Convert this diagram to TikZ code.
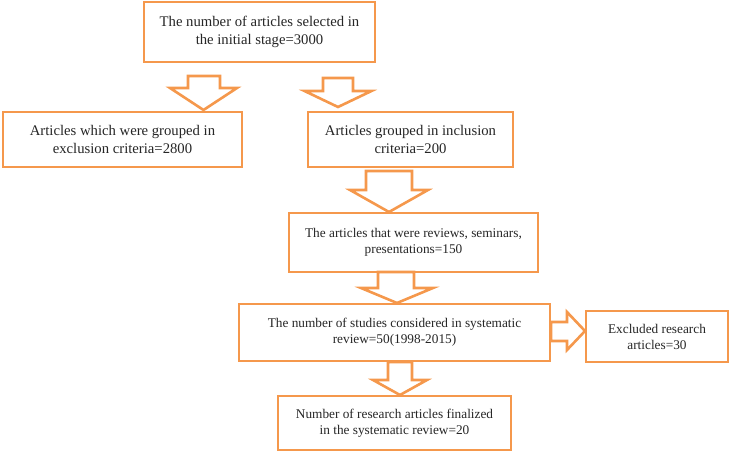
\documentclass[tikz,border=0pt]{standalone}
\usepackage{fontspec}
\setmainfont{Liberation Serif}
\definecolor{boxorange}{RGB}{245,152,76}
\begin{document}
\begin{tikzpicture}[x=1pt,y=-1pt,
  box/.style={draw=boxorange,line width=2.6pt,fill=white,align=center,inner sep=0pt,text=black!85},
  big/.style={font=\fontsize{14.7}{17.5}\selectfont},
  small/.style={font=\fontsize{13.3}{16}\selectfont},
  barrow/.style={draw=boxorange,line width=2.6pt,fill=white,line join=miter}]
\useasboundingbox (0,0) rectangle (730,452);
\node[box,big,minimum width=231pt,minimum height=60pt] (b1) at (259.5,32) {The number of articles selected in\\the initial stage=3000};
\node[box,big,minimum width=239pt,minimum height=55pt] (b2) at (122.5,139.5) {Articles which were grouped in\\exclusion criteria=2800};
\node[box,big,minimum width=205pt,minimum height=55pt] (b3) at (410.5,139.5) {Articles grouped in inclusion\\criteria=200};
\node[box,small,minimum width=249pt,minimum height=59pt] (b4) at (413.5,242.5) {The articles that were reviews, seminars,\\presentations=150};
\node[box,small,minimum width=311pt,minimum height=57pt] (b5) at (394.5,332.5) {The number of studies considered in systematic\\review=50(1998-2015)};
\node[box,small,minimum width=142pt,minimum height=51pt] (b6) at (657,336.5) {Excluded research\\articles=30};
\node[box,small,minimum width=233pt,minimum height=54pt] (b7) at (394.5,423) {Number of research articles finalized\\in the systematic review=20};
% block arrows
\draw[barrow] (188,76) -- (220,76) -- (220,88) -- (237,88) -- (203.5,110) -- (170,88) -- (188,88) -- cycle;
\draw[barrow] (323,78) -- (353,78) -- (353,91) -- (371.5,91) -- (338,107) -- (304.5,91) -- (323,91) -- cycle;
\draw[barrow] (366,171) -- (412,171) -- (412,190) -- (428,190) -- (389,212) -- (350,190) -- (366,190) -- cycle;
\draw[barrow] (378,272) -- (414,272) -- (414,288) -- (433,288) -- (397,303) -- (361,288) -- (378,288) -- cycle;
\draw[barrow] (388,362) -- (412,362) -- (412,380) -- (427,380) -- (400,395) -- (373,380) -- (388,380) -- cycle;
\draw[barrow] (551,322) -- (567,322) -- (567,312) -- (585,331) -- (567,350) -- (567,341) -- (551,341) -- cycle;
\end{tikzpicture}
\end{document}
